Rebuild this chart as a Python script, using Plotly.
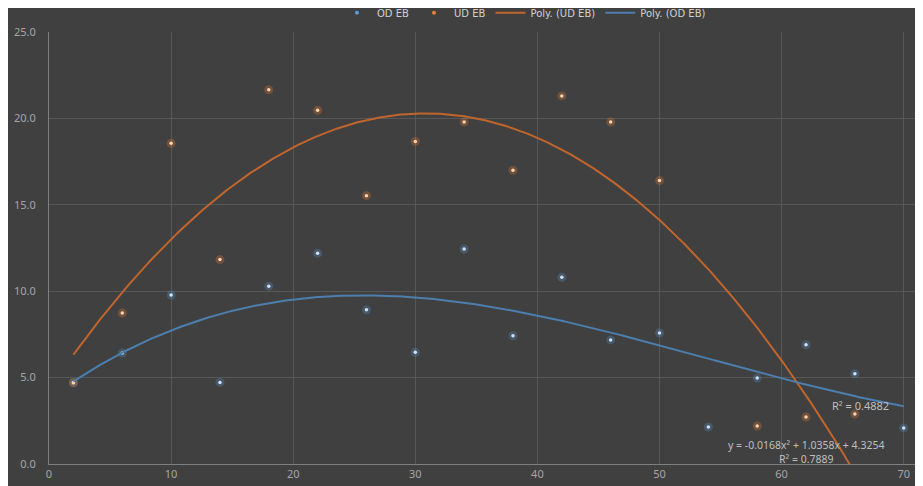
import numpy as np
import plotly.graph_objects as go

# ---- data ----
x_vals = [2, 6, 10, 14, 18, 22, 26, 30, 34, 38, 42, 46, 50, 54, 58, 62, 66, 70]
od_eb = [4.70, 6.42, 9.78, 4.72, 10.29, 12.20, 8.92, 6.47, 12.44, 7.42, 10.81, 7.18, 7.58, 2.14, 4.97, 6.90, 5.23, 2.09]
ud_x = [2, 6, 10, 14, 18, 22, 26, 30, 34, 38, 42, 46, 50, 58, 62, 66]
ud_eb = [4.70, 8.74, 18.56, 11.83, 21.66, 20.47, 15.53, 18.67, 19.79, 17.00, 21.30, 19.79, 16.40, 2.20, 2.72, 2.89]
ud_coef = [-0.0168, 1.0358, 4.3254]   # Poly. (UD EB), order 2, from chart label
ud_r2 = 0.7889
od_r2 = 0.4882
y_ticks = [0, 5, 10, 15, 20, 25]
x_ticks = [0, 10, 20, 30, 40, 50, 60, 70]

BLUE = "#5b9bd5"
ORANGE = "#ed7d31"
BLUE_LINE = "#4c7eae"
ORANGE_LINE = "#c0652c"
BG = "#404040"
TXT = "#a6a6a6"
FONT = "Noto Sans"

xs = np.linspace(2, 70, 600)
od_fit = np.polyval(np.polyfit(x_vals, od_eb, 3), xs)
ud_fit = np.polyval(ud_coef, xs)

fig = go.Figure()

# halos (glow) and light cores for points
fig.add_trace(go.Scatter(x=x_vals, y=od_eb, mode="markers", showlegend=False, hoverinfo="skip",
                         marker=dict(size=9, color=BLUE, opacity=0.28, line=dict(width=0))))
fig.add_trace(go.Scatter(x=x_vals, y=od_eb, mode="markers", name="OD EB", showlegend=False,
                         marker=dict(size=3.5, color="#cfe2f5", line=dict(width=0))))
fig.add_trace(go.Scatter(x=ud_x, y=ud_eb, mode="markers", showlegend=False, hoverinfo="skip",
                         marker=dict(size=9, color=ORANGE, opacity=0.28, line=dict(width=0))))
fig.add_trace(go.Scatter(x=ud_x, y=ud_eb, mode="markers", name="UD EB", showlegend=False,
                         marker=dict(size=3.5, color="#fbd3b0", line=dict(width=0))))
# legend entries
fig.add_trace(go.Scatter(x=[None], y=[None], mode="markers", name="OD EB",
                         marker=dict(size=4, color=BLUE, line=dict(width=0))))
fig.add_trace(go.Scatter(x=[None], y=[None], mode="markers", name="UD EB",
                         marker=dict(size=4, color=ORANGE, line=dict(width=0))))
fig.add_trace(go.Scatter(x=xs, y=ud_fit, mode="lines", name="Poly. (UD EB)",
                         line=dict(color=ORANGE_LINE, width=2)))
fig.add_trace(go.Scatter(x=xs, y=od_fit, mode="lines", name="Poly. (OD EB)",
                         line=dict(color=BLUE_LINE, width=2)))

eq = "y = {:.4f}x² + {:.4f}x + {:.4f}".format(*ud_coef)
fig.add_annotation(x=66.5, y=3.40, xref="x", yref="y", text="R² = {:.4f}".format(od_r2),
                   showarrow=False, font=dict(family=FONT, size=11, color="#bfbfbf"))
fig.add_annotation(x=62.0, y=0.72, xref="x", yref="y",
                   text=eq + "<br>R² = {:.4f}".format(ud_r2), align="center",
                   showarrow=False, font=dict(family=FONT, size=10.5, color="#bfbfbf"))

fig.update_layout(
    width=923, height=486,
    margin=dict(l=41, r=8, t=24, b=30, autoexpand=False),
    paper_bgcolor=BG, plot_bgcolor=BG,
    font=dict(family=FONT, size=11, color=TXT),
    legend=dict(orientation="h", xref="container", yref="container", x=0.559, xanchor="center",
                y=0.99, yanchor="middle",
                font=dict(family="DejaVu Sans", size=10, color="#d0d0d0"), itemwidth=30,
                bgcolor="rgba(0,0,0,0)"),
    xaxis=dict(range=[0, 71.58], tickvals=x_ticks, showgrid=True, gridcolor="#575757", gridwidth=1,
               zeroline=False, showline=True, linecolor="#7f7f7f", linewidth=1, automargin=False,
               tickfont=dict(family=FONT, size=11, color=TXT), ticks=""),
    yaxis=dict(range=[0, 25], tickvals=y_ticks, tickformat=".1f", showgrid=True, gridcolor="#575757",
               gridwidth=1, zeroline=False, showline=True, linecolor="#7f7f7f", linewidth=1,
               automargin=False,
               tickfont=dict(family=FONT, size=11, color=TXT), ticks="", ticklabelstandoff=10),
)

fig.write_html("out.html")
